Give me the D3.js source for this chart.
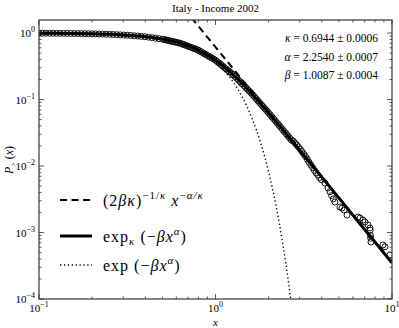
<!DOCTYPE html>
<meta charset="utf-8">
<style>
body { margin: 0; background: #fff; }
svg text { font-family: "Liberation Serif", "DejaVu Serif", serif; fill: #000; }
</style>
<svg width="399" height="328"></svg>
<script src="https://d3js.org/d3.v7.min.js"></script>
<script>

let dataX = [0.1000,0.1047,0.1096,0.1148,0.1202,0.1259,0.1318,0.1380,0.1445,0.1514,0.1585,0.1660,0.1738,0.1820,0.1905,0.1995,0.2089,0.2188,0.2291,0.2399,0.2512,0.2630,0.2754,0.2884,0.3020,0.3162,0.3311,0.3467,0.3631,0.3802,0.3981,0.4169,0.4365,0.4571,0.4786,0.5012,
  0.5129,0.5248,0.5370,0.5495,0.5623,0.5754,0.5888,0.6026,0.6166,0.6310,0.6457,0.6607,0.6761,0.6918,0.7079,0.7244,0.7413,0.7586,0.7762,0.7943,0.8128,0.8318,0.8511,0.8710,0.8913,0.9120,0.9333,0.9550,0.9772,1.000,
  1.023,1.047,1.072,1.096,1.122,1.148,1.175,1.202,1.230,1.259,1.288,1.318,1.349,1.380,1.413,1.445,1.479,1.514,1.549,1.585,1.622,1.660,1.698,1.738,1.778,1.820,1.862,1.905,1.950,1.995,
  2.042,2.089,2.138,2.188,2.239,2.291,2.344,2.399,2.455,2.512,2.570,2.630,2.692,2.754,2.818,2.884,2.951,3.020,3.090,3.162,3.236,3.311,3.388,3.467,3.548,3.631,3.715,3.802,3.890,3.981,
  4.17,4.34,4.45,4.55,4.65,4.75,5.07,5.21,5.35,5.56,6.42,6.59,6.85,7.03,7.31,7.50,7.52,7.55,7.57,7.60,8.89,9.12,9.74];
let dataY = [0.9944,0.9938,0.9929,0.9922,0.9913,0.9906,0.9892,0.9881,0.9867,0.9856,0.9842,0.9822,0.9802,0.9779,0.9759,0.9736,0.9701,0.9665,0.9632,0.9596,0.9561,0.9504,0.9445,0.9389,0.9331,0.9275,0.9181,0.9087,0.8995,0.8903,0.8813,0.8663,0.8517,0.8371,0.8230,0.8091,
  0.7978,0.7866,0.7755,0.7646,0.7538,0.7430,0.7327,0.7223,0.7122,0.7021,0.6861,0.6705,0.6551,0.6401,0.6255,0.6113,0.5974,0.5837,0.5704,0.5574,0.5379,0.5191,0.5009,0.4834,0.4665,0.4501,0.4345,0.4193,0.4047,0.3905,
  0.3713,0.3532,0.3359,0.3195,0.3039,0.2890,0.2749,0.2615,0.2487,0.2365,0.2222,0.2088,0.1962,0.1843,0.1732,0.1627,0.1529,0.1437,0.1350,0.1268,0.1183,0.1104,0.1030,0.0961,0.0896,0.0837,0.0780,0.0728,0.0679,0.0634,
  0.0589,0.0548,0.0510,0.0474,0.0440,0.0410,0.0381,0.0354,0.0329,0.0306,0.0284,0.0264,0.0245,0.0238,0.0222,0.0207,0.0193,0.0179,0.0165,0.0151,0.0139,0.0127,0.0114,0.0104,0.0095,0.0086,0.0079,0.0073,0.0067,0.0062,
  0.00555,0.00467,0.0041,0.0036,0.0032,0.00288,0.00242,0.00233,0.00218,0.00183,0.00171,0.00165,0.00154,0.00144,0.00130,0.00117,0.00108,0.00090,0.00082,0.00072,0.00065,0.00061,0.00046];

// kappa-exponential fit curve
let kapX = [0.1,0.1259,0.1585,0.1995,0.2512,0.3162,0.3981,0.5012,0.6310,0.7943,1.0,1.259,1.585,1.995,2.512,3.162,3.981,5.012,6.310,7.943,10];
let kapY = [0.9944,0.9906,0.9843,0.9736,0.9562,0.9275,0.8813,0.8091,0.7021,0.5574,0.3905,0.2365,0.1268,0.06336,0.03063,0.01461,0.006933,0.003290,0.001557,0.000737,0.000349];

// stretched exponential curve
let expX = [0.1,0.2,0.3,0.4,0.5,0.6,0.7,0.8,0.9,1.0,1.1,1.2,1.3,1.4,1.5,1.6,1.7,1.8,1.9,2.0,2.2,2.4,2.6,2.7];
let expY = [0.9944,0.9735,0.9353,0.8799,0.8094,0.7269,0.6367,0.5434,0.4514,0.3647,0.2864,0.2184,0.1617,0.1161,0.0808,0.0545,0.0356,0.02249,0.01376,0.00813,0.002568,0.000706,0.0001679,0.0000776];

// power law asymptote
let powX = [0.5, 10];
let powY = [5.83, 0.000349];

let paramSymbols = ["κ", "α", "β"];
let paramValues = [" = 0.6944 ± 0.0006", " = 2.2540 ± 0.0007", " = 1.0087 ± 0.0004"];
let xTicks = [0.1, 1, 10];
let xTickExp = ["−1", "0", "1"];
let yTicks = [1, 0.1, 0.01, 0.001, 0.0001];
let yTickExp = ["0", "−1", "−2", "−3", "−4"];

let svg = d3.select("svg"),
    pLeft = 39, pRight = 392, pTop = 20, pBottom = 299;

let x = d3.scaleLog().domain([0.1, 10]).range([pLeft, pRight]);
let y = d3.scaleLog().domain([1e-4, 1.57]).range([pBottom, pTop]);

svg.append("clipPath").attr("id", "clip")
  .append("rect").attr("x", pLeft).attr("y", pTop).attr("width", pRight - pLeft).attr("height", pBottom - pTop);

let plot = svg.append("g").attr("clip-path", "url(#clip)");

plot.selectAll("circle")
  .data(dataX.map((v, i) => [v, dataY[i]]))
  .enter().append("circle")
  .attr("cx", d => x(d[0]))
  .attr("cy", d => y(d[1]))
  .attr("r", 3)
  .attr("fill", "none")
  .attr("stroke", "#000")
  .attr("stroke-width", 0.9);

let line = d3.line().x(d => x(d[0])).y(d => y(d[1])).curve(d3.curveMonotoneX);

plot.append("path")
  .attr("d", line(powX.map((v, i) => [v, powY[i]])))
  .attr("fill", "none").attr("stroke", "#000")
  .attr("stroke-width", 2).attr("stroke-dasharray", "7,4.5");

plot.append("path")
  .attr("d", line(expX.map((v, i) => [v, expY[i]])))
  .attr("fill", "none").attr("stroke", "#000")
  .attr("stroke-width", 1.4).attr("stroke-dasharray", "1.3,2.6");

plot.append("path")
  .attr("d", line(kapX.map((v, i) => [v, kapY[i]])))
  .attr("fill", "none").attr("stroke", "#000")
  .attr("stroke-width", 3);

// frame
svg.append("rect")
  .attr("x", pLeft).attr("y", pTop).attr("width", pRight - pLeft).attr("height", pBottom - pTop)
  .attr("fill", "none").attr("stroke", "#444").attr("stroke-width", 1.3);

// ticks (inward on all four sides)
function minors(lo, hi) {
  let out = [];
  for (let e = lo; e < hi; e++)
    for (let m = 2; m <= 9; m++) out.push(m * Math.pow(10, e));
  return out;
}
let g = svg.append("g").attr("stroke", "#333").attr("stroke-width", 0.8);
let xMin = minors(-1, 1);
let yMin = minors(-4, 1).filter(v => v < 1.57);
xTicks.forEach(v => {
  g.append("line").attr("x1", x(v)).attr("x2", x(v)).attr("y1", pBottom).attr("y2", pBottom - 5);
  g.append("line").attr("x1", x(v)).attr("x2", x(v)).attr("y1", pTop).attr("y2", pTop + 5);
});
xMin.forEach(v => {
  g.append("line").attr("x1", x(v)).attr("x2", x(v)).attr("y1", pBottom).attr("y2", pBottom - 2.5);
  g.append("line").attr("x1", x(v)).attr("x2", x(v)).attr("y1", pTop).attr("y2", pTop + 2.5);
});
yTicks.forEach(v => {
  g.append("line").attr("y1", y(v)).attr("y2", y(v)).attr("x1", pLeft).attr("x2", pLeft + 5);
  g.append("line").attr("y1", y(v)).attr("y2", y(v)).attr("x1", pRight).attr("x2", pRight - 5);
});
yMin.forEach(v => {
  g.append("line").attr("y1", y(v)).attr("y2", y(v)).attr("x1", pLeft).attr("x2", pLeft + 2.5);
  g.append("line").attr("y1", y(v)).attr("y2", y(v)).attr("x1", pRight).attr("x2", pRight - 2.5);
});

// tick labels
xTicks.forEach((v, i) => {
  let t = svg.append("text").attr("x", x(v)).attr("y", 312).attr("text-anchor", "middle").style("font-size", "11px");
  t.append("tspan").text("10");
  t.append("tspan").attr("dy", -5).style("font-size", "8px").text(xTickExp[i]);
});
yTicks.forEach((v, i) => {
  let t = svg.append("text").attr("x", 35).attr("y", y(v) + 4).attr("text-anchor", "end").style("font-size", "11px");
  t.append("tspan").text("10");
  t.append("tspan").attr("dy", -5).style("font-size", "8px").text(yTickExp[i]);
});

// title and axis labels
svg.append("text").attr("x", (pLeft + pRight) / 2).attr("y", 12).attr("text-anchor", "middle")
  .style("font-size", "11px").text("Italy - Income 2002");
svg.append("text").attr("x", (pLeft + pRight) / 2).attr("y", 326).attr("text-anchor", "middle")
  .style("font-size", "11px").style("font-style", "italic").text("x");
let yl = svg.append("text").attr("transform", "translate(13,160) rotate(-90)").attr("text-anchor", "middle").style("font-size", "12px");
yl.append("tspan").style("font-style", "italic").text("P");
yl.append("tspan").attr("dy", 3).style("font-size", "8px").text(">");
yl.append("tspan").attr("dy", -3).text(" (");
yl.append("tspan").style("font-style", "italic").text("x");
yl.append("tspan").text(")");

// parameter box
paramSymbols.forEach((s, i) => {
  let t = svg.append("text").attr("x", 378).attr("y", 42 + i * 18.5).attr("text-anchor", "end")
    .style("font-size", "11.5px");
  t.append("tspan").style("font-style", "italic").text(s);
  t.append("tspan").text(paramValues[i]);
});

// legend
let lg = svg.append("g");
lg.append("line").attr("x1", 60).attr("x2", 92).attr("y1", 200).attr("y2", 200)
  .attr("stroke", "#000").attr("stroke-width", 2).attr("stroke-dasharray", "7,4.5");
lg.append("line").attr("x1", 60).attr("x2", 92).attr("y1", 236).attr("y2", 236)
  .attr("stroke", "#000").attr("stroke-width", 3);
lg.append("line").attr("x1", 60).attr("x2", 92).attr("y1", 265).attr("y2", 265)
  .attr("stroke", "#000").attr("stroke-width", 1.4).attr("stroke-dasharray", "1.3,2.6");

let fs = "16px", ss = "11px";
let t1 = lg.append("text").attr("x", 103).attr("y", 205.5).style("font-size", fs).style("letter-spacing", "1px");
t1.append("tspan").text("(2");
t1.append("tspan").style("font-style", "italic").text("βκ");
t1.append("tspan").text(")");
t1.append("tspan").attr("dy", -7).style("font-size", ss).text("−1/");
t1.append("tspan").style("font-size", ss).style("font-style", "italic").text("κ");
t1.append("tspan").attr("dy", 7).style("font-style", "italic").text(" x");
t1.append("tspan").attr("dy", -7).style("font-size", ss).text("−");
t1.append("tspan").style("font-size", ss).style("font-style", "italic").text("α/κ");

let t2 = lg.append("text").attr("x", 103).attr("y", 241.5).style("font-size", fs).style("letter-spacing", "1px");
t2.append("tspan").text("exp");
t2.append("tspan").attr("dy", 3).style("font-size", ss).style("font-style", "italic").text("κ");
t2.append("tspan").attr("dy", -3).text(" (−");
t2.append("tspan").style("font-style", "italic").text("βx");
t2.append("tspan").attr("dy", -7).style("font-size", ss).style("font-style", "italic").text("α");
t2.append("tspan").attr("dy", 7).text(")");

let t3 = lg.append("text").attr("x", 103).attr("y", 270.5).style("font-size", fs).style("letter-spacing", "1px");
t3.append("tspan").text("exp (−");
t3.append("tspan").style("font-style", "italic").text("βx");
t3.append("tspan").attr("dy", -7).style("font-size", ss).style("font-style", "italic").text("α");
t3.append("tspan").attr("dy", 7).text(")");

</script>
